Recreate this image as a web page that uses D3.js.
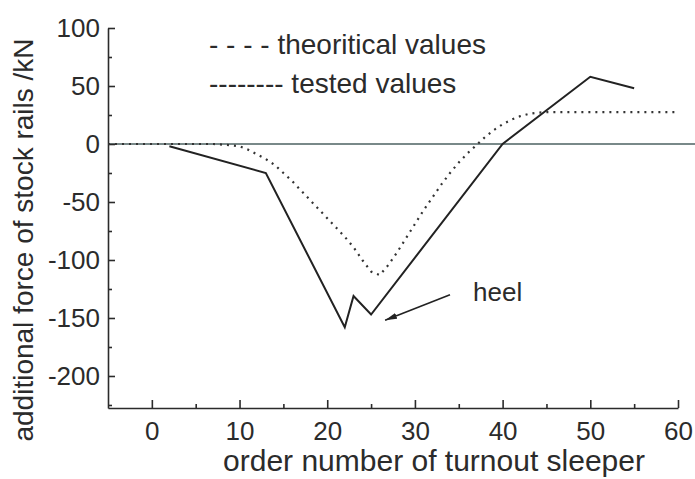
<!DOCTYPE html>
<html>
<head>
<meta charset="utf-8">
<script src="https://cdn.jsdelivr.net/npm/d3@7"></script>
<style>
  body { margin: 0; background: #fff; }
  text { font-family: "Liberation Sans", Arial, sans-serif; fill: #2b2b2b; }
</style>
</head>
<body>
<div id="chart-area"></div>
<script>
/* additional force of stock rails vs turnout sleeper */

// tested values (solid line)
var testedX = [2, 13, 22, 23, 25, 40, 50, 55];
var testedY = [-2, -25, -158, -131, -147, 0, 58, 48];

// theoritical values (dotted line), one value per sleeper
var theoX = [-5, -4, -3, -2, -1, 0, 1, 2, 3, 4, 5, 6, 7, 8, 9,
             10, 11, 12, 13, 14, 15, 16, 17, 18, 19, 20, 21, 22, 23, 24, 25,
             26, 27, 28, 29, 30, 31, 32, 33, 34, 35, 36, 37, 38, 39, 40,
             41, 42, 43, 44, 45, 46, 47, 48, 49, 50, 51, 52, 53, 54, 55,
             56, 57, 58, 59, 60];
var theoY = [0, 0, 0, 0, 0, 0, 0, 0, 0, 0, 0, 0, 0, -0.5, -1,
             -2, -5, -9, -13, -18, -25, -32, -40, -48, -56, -64, -72, -80, -89, -100, -110,
             -113, -104, -93, -81, -69, -57, -46, -35, -25, -16, -8, -1, 6, 12, 17,
             21, 24, 26, 27, 27.5, 27.5, 27.5, 27.5, 27.5, 27.5, 27.5, 27.5, 27.5, 27.5, 27.5,
             27.5, 27.5, 27.5, 27.5, 27.5];

var xTicks = [0, 10, 20, 30, 40, 50, 60];
var xMinor = [5, 15, 25, 35, 45, 55];
var yTicks = [100, 50, 0, -50, -100, -150, -200];
var yMinor = [75, 25, -25, -75, -125, -175, -225];

var legendLabels = ["- - - - theoritical values", "-------- tested values"];

const WIDTH = 695
const HEIGHT = 479

var svg = d3.select("#chart-area").append("svg")
    .attr("width", WIDTH)
    .attr("height", HEIGHT)

// scales
const x = d3.scaleLinear()
    .domain([-5, 60])
    .range([108, 678])

const y = d3.scaleLinear()
    .domain([-227.6, 100])
    .range([408, 28])

// plain hyphen for negatives, like the original
const plain = d => String(d)

// zero line, runs past the plot to the edge
svg.append("line")
    .attr("x1", x(-5)).attr("x2", WIDTH)
    .attr("y1", y(0)).attr("y2", y(0))
    .attr("stroke", "#4d6262")
    .attr("stroke-width", 1.5)

// axes (ticks pointing inward)
svg.append("g")
    .attr("transform", "translate(0," + y.range()[0] + ")")
    .call(d3.axisBottom(x).tickValues(xTicks).tickFormat(plain).tickSizeInner(-8).tickSizeOuter(0).tickPadding(14))
svg.append("g")
    .attr("transform", "translate(0," + y.range()[0] + ")")
    .call(d3.axisBottom(x).tickValues(xMinor).tickSizeInner(-4).tickSizeOuter(0).tickFormat(""))
    .select(".domain").remove()

svg.append("g")
    .attr("transform", "translate(" + x.range()[0] + ",0)")
    .call(d3.axisLeft(y).tickValues(yTicks).tickFormat(plain).tickSizeInner(-7).tickSizeOuter(0).tickPadding(8))
svg.append("g")
    .attr("transform", "translate(" + x.range()[0] + ",0)")
    .call(d3.axisLeft(y).tickValues(yMinor.filter(v => v > -227)).tickSizeInner(-4).tickSizeOuter(0).tickFormat(""))
    .select(".domain").remove()

svg.selectAll(".domain, .tick line")
    .attr("stroke", "#2b2b2b")
    .attr("stroke-width", 1.6)

svg.selectAll(".tick text")
    .style("font-size", "26px")
    .attr("fill", "#2b2b2b")

// lines
const line = d3.line()
    .x(d => x(d[0]))
    .y(d => y(d[1]))

svg.append("path")
    .datum(d3.zip(theoX, theoY))
    .attr("d", line)
    .attr("fill", "none")
    .attr("stroke", "#333")
    .attr("stroke-width", 2.2)
    .attr("stroke-dasharray", "2,5")

svg.append("path")
    .datum(d3.zip(testedX, testedY))
    .attr("d", line)
    .attr("fill", "none")
    .attr("stroke", "#222")
    .attr("stroke-width", 2)
    .attr("stroke-linejoin", "miter")

// legend
svg.selectAll(".legend")
    .data(legendLabels)
    .enter().append("text")
    .attr("class", "legend")
    .attr("x", 209)
    .attr("y", (d, i) => 54 + i * 39)
    .style("font-size", "28px")
    .text(d => d)

// heel annotation
svg.append("defs").append("marker")
    .attr("id", "arrow")
    .attr("viewBox", "0 0 12 6")
    .attr("refX", 12).attr("refY", 3)
    .attr("markerWidth", 12).attr("markerHeight", 6)
    .attr("markerUnits", "userSpaceOnUse")
    .attr("orient", "auto")
    .append("path")
    .attr("d", "M0,0 L12,3 L0,6 Z")
    .attr("fill", "#222")

svg.append("line")
    .attr("x1", x(34)).attr("y1", y(-130))
    .attr("x2", x(26.6)).attr("y2", y(-152))
    .attr("stroke", "#222")
    .attr("stroke-width", 1.6)
    .attr("marker-end", "url(#arrow)")

svg.append("text")
    .attr("x", 473)
    .attr("y", 301)
    .style("font-size", "26px")
    .text("heel")

// axis titles
svg.append("text")
    .attr("x", 434)
    .attr("y", 471)
    .attr("text-anchor", "middle")
    .style("font-size", "30px")
    .text("order number of turnout sleeper")

svg.append("text")
    .attr("transform", "translate(33,240) rotate(-90)")
    .attr("text-anchor", "middle")
    .style("font-size", "28px")
    .text("additional force of stock rails /kN")
</script>
</body>
</html>
